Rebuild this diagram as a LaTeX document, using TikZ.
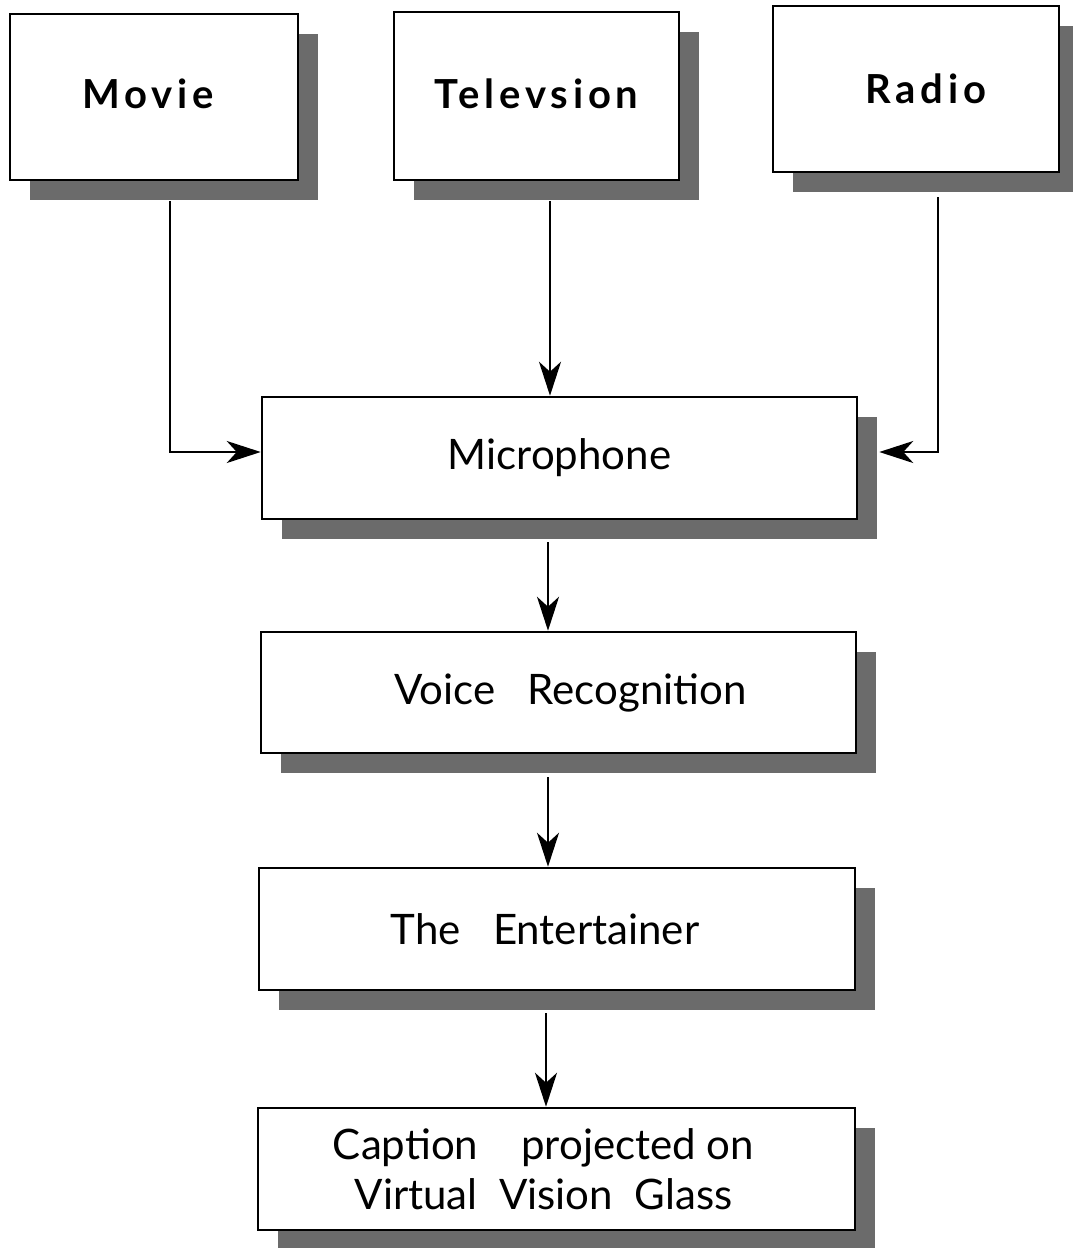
\documentclass[tikz,border=0pt]{standalone}
\usepackage{fontspec}
\setmainfont{Lato}
\usetikzlibrary{arrows.meta,shadows,calc}
\begin{document}
\begin{tikzpicture}[x=1pt,y=-1pt,
  box/.style={draw=black, line width=2.5pt, fill=white, align=center, inner sep=0pt,
    general shadow={shadow xshift=20pt, shadow yshift=-20pt, fill=black!58}},
  top/.style={box, font=\fontsize{40}{42}\selectfont\bfseries\addfontfeature{LetterSpace=12}},
  mid/.style={box, font=\fontsize{42}{50}\selectfont},
  conn/.style={line width=2.5pt, -{Stealth[length=34pt,width=22pt,inset=10pt]}}]
\useasboundingbox (0,0) rectangle (1072,1248);
\node[top, minimum width=288pt, minimum height=166pt] (movie) at (154,97) {\raisebox{7pt}{Movie\kern12pt}};
\node[top, minimum width=285pt, minimum height=168pt] (tv) at (536.5,96) {\raisebox{4pt}{Televsion}};
\node[top, minimum width=286pt, minimum height=166pt] (radio) at (916,89) {\raisebox{1pt}{\kern20pt Radio}};
\node[mid, minimum width=595pt, minimum height=122pt] (mic) at (559.5,458) {Microphone};
\node[mid, minimum width=595pt, minimum height=121pt] (vr) at (558.5,692.5) {\kern24pt Voice\ \ \ Recognition};
\node[mid, minimum width=596pt, minimum height=122pt] (ent) at (557,929) {The\ \ \ Entertainer\kern24pt};
\node[mid, minimum width=597pt, minimum height=122pt] (cap) at (556.5,1169) {Caption\ \ \ \ projected\ on\kern26pt\\Virtual\ \ Vision\ \ Glass\kern26pt};
% connectors
\coordinate (m0) at ($(movie.south)+(16,20)$);
\coordinate (m1) at ($(mic.west)+(0,-6)$);
\draw[conn] (m0) |- (m1);
\coordinate (t0) at ($(tv.south)+(13.5,20)$);
\draw[conn] (t0) -- (t0 |- mic.north);
\coordinate (r0) at ($(radio.south)+(22,24)$);
\coordinate (r1) at ($(mic.east)+(21,-6)$);
\draw[conn] (r0) |- (r1);
\coordinate (a0) at ($(mic.south)+(-11.5,22)$);
\draw[conn] (a0) -- (a0 |- vr.north);
\coordinate (b0) at ($(vr.south)+(-10.5,23)$);
\draw[conn] (b0) -- (b0 |- ent.north);
\coordinate (c0) at ($(ent.south)+(-11,22)$);
\draw[conn] (c0) -- (c0 |- cap.north);
\end{tikzpicture}
\end{document}
